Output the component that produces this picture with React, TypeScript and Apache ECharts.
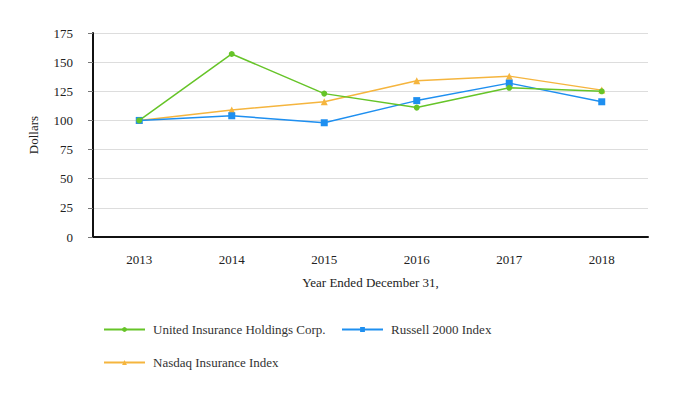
import React, { useEffect, useRef } from "react";
import * as echarts from "echarts";

const years = ["2013", "2014", "2015", "2016", "2017", "2018"];
const uihc = [100, 157, 123, 111, 128, 125];
const russell = [100, 104, 98, 117, 132, 116];
const nasdaq = [100, 109, 116, 134, 138, 126];
const seriesNames = ["United Insurance Holdings Corp.", "Russell 2000 Index", "Nasdaq Insurance Index"];
const colors = ["#66c428", "#1e8ff0", "#f5b53e"];

const FONT = "Times New Roman, Liberation Serif, DejaVu Serif, serif";

export default function App() {
  const ref = useRef<HTMLDivElement>(null);
  useEffect(() => {
    if (!ref.current) return;
    const chart = echarts.init(ref.current, null, { renderer: "svg" });
    const legendBase = {
      orient: "horizontal",
      padding: 0,
      itemWidth: 41,
      itemHeight: 6,
      itemGap: 10,
      textStyle: { fontFamily: FONT, fontSize: 13, color: "#333", padding: [0, 0, 0, 3] },
    };
    chart.setOption({
      animation: false,
      textStyle: { fontFamily: FONT },
      grid: { left: 85, right: 26, top: 25, bottom: 155, containLabel: false },
      legend: [
        { ...legendBase, left: 95, top: 315, data: [seriesNames[0]] },
        { ...legendBase, left: 333, top: 315, data: [seriesNames[1]] },
        { ...legendBase, left: 95, top: 348, data: [seriesNames[2]] },
      ],
      xAxis: {
        type: "category",
        data: years,
        boundaryGap: true,
        name: "Year Ended December 31,",
        nameLocation: "middle",
        nameGap: 39,
        nameTextStyle: { fontFamily: FONT, fontSize: 13, color: "#222" },
        axisLine: { lineStyle: { color: "#111", width: 2 } },
        axisTick: { alignWithLabel: true, length: 5, lineStyle: { color: "#777" } },
        axisLabel: { fontFamily: FONT, fontSize: 13, color: "#222", margin: 16 },
        splitLine: { show: false },
      },
      yAxis: {
        type: "value",
        min: 0,
        max: 175,
        interval: 25,
        name: "Dollars",
        nameLocation: "middle",
        nameRotate: 90,
        nameGap: 53,
        nameTextStyle: { fontFamily: FONT, fontSize: 13, color: "#222" },
        axisLine: { show: true, lineStyle: { color: "#111", width: 2 } },
        axisTick: { show: true, length: 5, lineStyle: { color: "#777" } },
        axisLabel: { fontFamily: FONT, fontSize: 13, color: "#222", margin: 20 },
        splitLine: { show: true, lineStyle: { color: "#dddddd", width: 1 } },
      },
      series: [
        {
          name: seriesNames[0],
          type: "line",
          data: uihc,
          color: colors[0],
          symbol: "circle",
          symbolSize: 6,
          lineStyle: { width: 1.5 },
          z: 4,
        },
        {
          name: seriesNames[1],
          type: "line",
          data: russell,
          color: colors[1],
          symbol: "rect",
          symbolSize: 7,
          lineStyle: { width: 1.5 },
          z: 3,
        },
        {
          name: seriesNames[2],
          type: "line",
          data: nasdaq,
          color: colors[2],
          symbol: "triangle",
          symbolSize: 7,
          lineStyle: { width: 1.5 },
          z: 2,
        },
      ],
    });
    return () => chart.dispose();
  }, []);
  return <div ref={ref} style={{ width: 666, height: 384 }} />;
}
